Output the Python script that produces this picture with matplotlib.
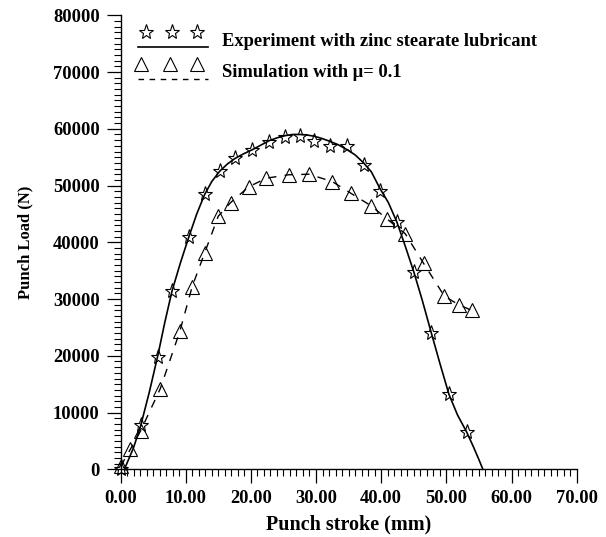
import numpy as np
import matplotlib
matplotlib.use("Agg")
import matplotlib.pyplot as plt
import matplotlib.ticker as mticker
from matplotlib.lines import Line2D
from matplotlib.legend_handler import HandlerBase

plt.rcParams["font.family"] = ["Liberation Serif", "DejaVu Serif"]
plt.rcParams["font.weight"] = "bold"

# experiment (zinc stearate lubricant) - star markers
exp_stroke = [0.1, 3.1, 5.7, 7.9, 10.5, 12.9, 15.2, 17.6, 20.2, 22.8, 25.3,
              27.5, 29.7, 32.1, 34.8, 37.3, 39.8, 42.4, 45.0, 47.7, 50.4, 53.2]
exp_load = [0, 7800, 19800, 31500, 41000, 48500, 52600, 54900, 56300, 57700, 58600,
            58700, 57900, 57000, 56900, 53600, 49000, 43600, 34800, 24000, 13200, 6600]

# fitted curve through the experiment points (solid line)
fit_stroke = [0.6, 2.0, 3.1, 4.4, 5.7, 6.8, 7.9, 9.2, 10.5, 11.7, 12.9, 14.0, 15.2,
              16.4, 17.6, 18.9, 20.2, 21.5, 22.8, 24.0, 25.3, 26.4, 27.5, 28.6, 29.7,
              30.9, 32.1, 33.4, 34.8, 36.0, 37.3, 38.5, 39.8, 41.1, 42.4, 43.7, 45.0,
              46.3, 47.7, 49.0, 50.4, 51.7, 53.1, 54.1, 55.0, 55.6]
fit_load = [0, 3800, 7700, 13500, 19900, 25900, 31400, 36400, 41000, 45000, 48400,
            50700, 52500, 53800, 54800, 55600, 56300, 57100, 57900, 58400, 58800,
            59000, 59000, 58900, 58700, 58300, 57800, 57200, 56300, 55400, 54000,
            52400, 49500, 47000, 43600, 39300, 34800, 29800, 24000, 18700, 13200,
            9600, 6600, 4100, 1700, 0]

# simulation with mu = 0.1 - triangle markers, dashed
sim_stroke = [0.0, 1.5, 3.1, 6.1, 9.1, 11.0, 12.9, 15.0, 16.9, 19.7, 22.4,
              25.8, 28.9, 32.5, 35.4, 38.5, 40.9, 43.7, 46.5, 49.7, 51.9, 53.9]
sim_load = [500, 3500, 6800, 14200, 24300, 32200, 38100, 44600, 47000, 49800, 51300,
            51900, 52000, 50700, 48600, 46400, 44100, 41500, 36300, 30500, 29000, 28000]

legend_labels = ["Experiment with zinc stearate lubricant",
                 "Simulation with \u03bc= 0.1"]


class MarkersOverLine(HandlerBase):
    """Legend sample: three markers sitting above a short line."""

    def __init__(self, fracs, **kw):
        super().__init__(**kw)
        self.fracs = np.array(fracs)

    def create_artists(self, legend, orig_handle, xdescent, ydescent,
                       width, height, fontsize, trans):
        x0, y0 = -xdescent, -ydescent
        base = Line2D([x0, x0 + width], [y0 - 0.15 * height] * 2,
                      color="black", lw=orig_handle.get_linewidth(),
                      ls=orig_handle.get_linestyle())
        if orig_handle.get_linestyle() != "-":
            base.set_dashes((4, 4))
        marks = Line2D(x0 + width * self.fracs, [y0 + 1.05 * height] * 3,
                       ls="none", marker=orig_handle.get_marker(),
                       ms=orig_handle.get_markersize(), mfc="none",
                       mec="black", mew=orig_handle.get_markeredgewidth())
        base.set_transform(trans)
        marks.set_transform(trans)
        return [base, marks]


fig = plt.figure(figsize=(6.06, 5.37), dpi=100)
ax = fig.add_axes([120.5 / 606, (537 - 469.3) / 537,
                   (576.7 - 120.5) / 606, (469.3 - 15.3) / 537])

ax.plot(fit_stroke, fit_load, color="black", lw=1.2, clip_on=False)
ax.plot(exp_stroke, exp_load, ls="none", marker="*", ms=11, mfc="none",
        mec="black", mew=0.8, clip_on=False)
ax.plot(sim_stroke, sim_load, color="black", lw=1.0, dashes=(6, 6),
        marker="^", ms=9.5, mfc="none", mec="black", mew=0.8, clip_on=False)

# legend handles carry only the style
h_exp = Line2D([], [], color="black", lw=1.2, ls="-", marker="*", ms=11, mew=0.8)
h_sim = Line2D([], [], color="black", lw=1.0, ls="--", marker="^", ms=9.5, mew=0.8)
ax.legend([h_exp, h_sim], legend_labels,
          handler_map={h_exp: MarkersOverLine([0.12, 0.48, 0.84]),
                       h_sim: MarkersOverLine([0.05, 0.46, 0.84])},
          loc="upper left", bbox_to_anchor=(0.038, 0.962), frameon=False,
          borderpad=0, borderaxespad=0, handlelength=3.8, handletextpad=0.75,
          labelspacing=0.8, prop={"size": 13.3, "weight": "bold"})

ax.set_xlim(0, 70)
ax.set_ylim(0, 80000)
ax.xaxis.set_major_locator(mticker.MultipleLocator(10))
ax.xaxis.set_minor_locator(mticker.MultipleLocator(1))
ax.yaxis.set_major_locator(mticker.MultipleLocator(10000))
ax.yaxis.set_minor_locator(mticker.MultipleLocator(1000))
ax.xaxis.set_major_formatter(mticker.FormatStrFormatter("%.2f"))
ax.yaxis.set_major_formatter(mticker.FormatStrFormatter("%d"))

ax.tick_params(which="major", direction="out", length=10, width=0.9,
               labelsize=13.3, pad=5)
ax.tick_params(which="minor", direction="out", length=5, width=0.8)
for side in ("top", "right"):
    ax.spines[side].set_visible(False)
for side in ("left", "bottom"):
    ax.spines[side].set_linewidth(1.0)

ax.set_xlabel("Punch stroke (mm)", fontsize=14.5, fontweight="bold")
ax.set_ylabel("Punch Load (N)", fontsize=12, fontweight="bold")
ax.xaxis.set_label_coords(0.5, -0.1)
ax.yaxis.set_label_coords(-0.19, 0.5)

fig.savefig("out.png", dpi=100)
